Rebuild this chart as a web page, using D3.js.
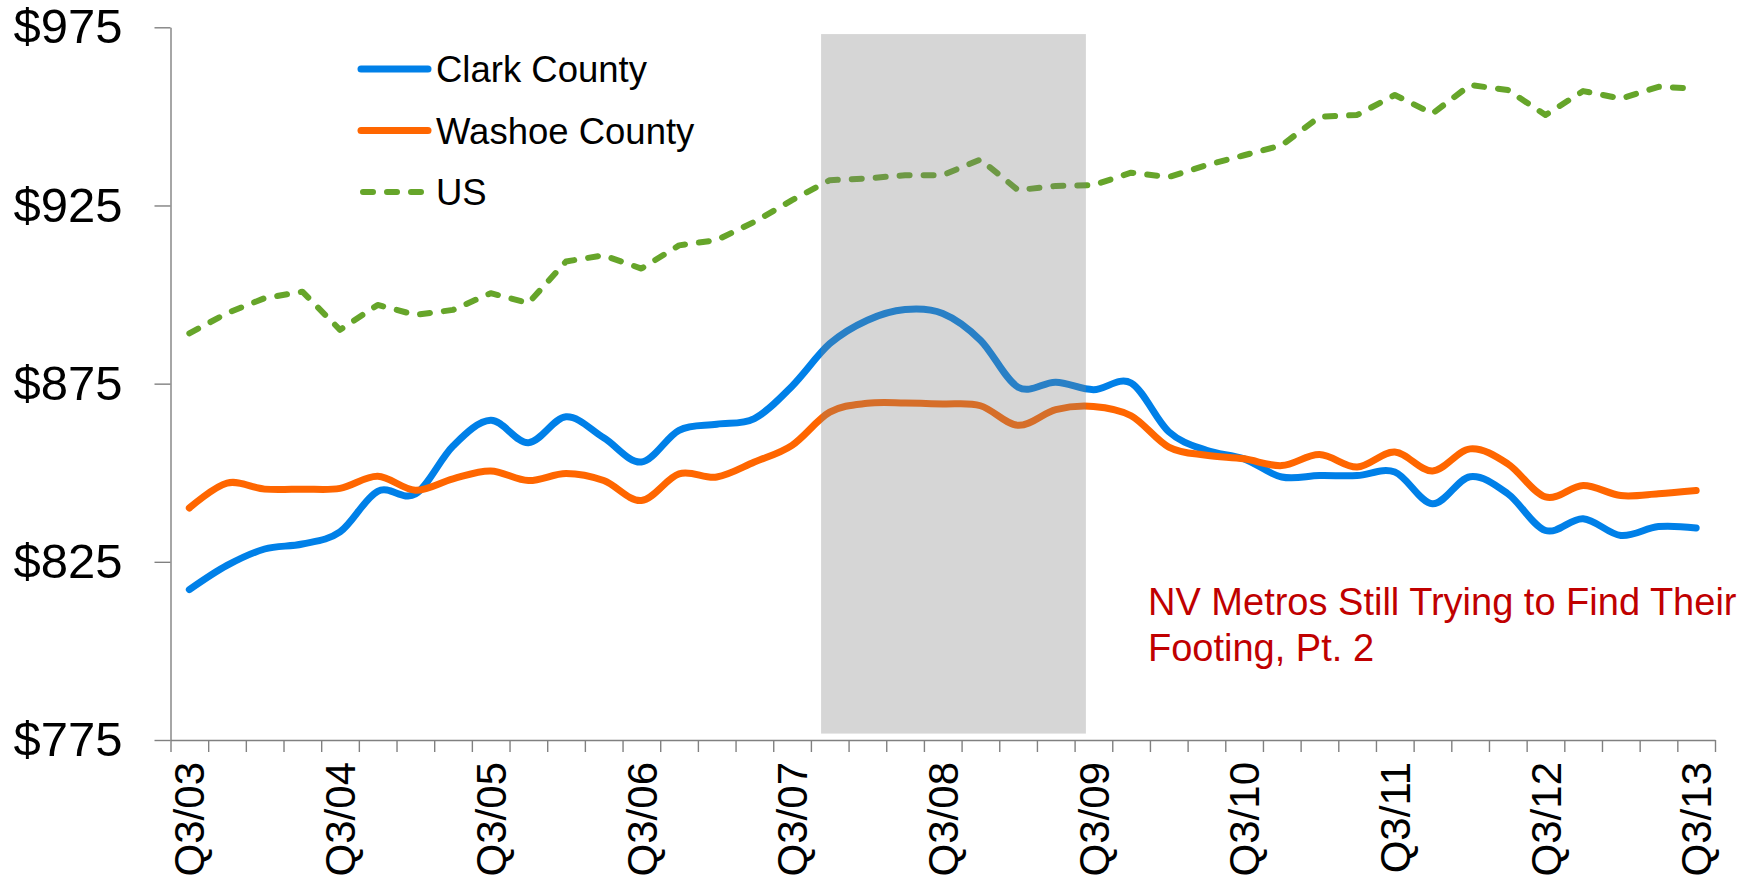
<!DOCTYPE html>
<html>
<head>
<meta charset="utf-8">
<script src="https://cdn.jsdelivr.net/npm/d3@7"></script>
<style>
  body { margin: 0; background: #fff; }
  svg { display: block; font-family: "Liberation Sans", Arial, sans-serif; }
</style>
</head>
<body>
<svg id="chart" width="1758" height="888"></svg>
<script>
const quarters = ["Q3/03","Q4/03","Q1/04","Q2/04","Q3/04","Q4/04","Q1/05","Q2/05","Q3/05","Q4/05",
  "Q1/06","Q2/06","Q3/06","Q4/06","Q1/07","Q2/07","Q3/07","Q4/07","Q1/08","Q2/08",
  "Q3/08","Q4/08","Q1/09","Q2/09","Q3/09","Q4/09","Q1/10","Q2/10","Q3/10","Q4/10",
  "Q1/11","Q2/11","Q3/11","Q4/11","Q1/12","Q2/12","Q3/12","Q4/12","Q1/13","Q2/13","Q3/13"];

const tickLabels = ["Q3/03","Q3/04","Q3/05","Q3/06","Q3/07","Q3/08","Q3/09","Q3/10","Q3/11","Q3/12","Q3/13"];

const clark = [817.2, 824.0, 828.6, 830.0, 833.4, 844.8, 844.0, 857.5, 864.7, 858.4,
  865.7, 859.8, 853.0, 861.9, 863.6, 865.2, 874.3, 886.2, 892.8, 895.8,
  894.7, 887.2, 874.0, 875.4, 873.3, 875.2, 861.5, 856.3, 853.9, 848.8,
  849.2, 849.2, 850.2, 841.3, 848.9, 844.1, 833.8, 837.1, 832.4, 834.9, 834.5];

const washoe = [840.1, 847.1, 845.4, 845.4, 845.6, 849.0, 845.1, 848.3, 850.5, 847.8,
  849.8, 847.8, 842.2, 849.7, 848.8, 853.0, 857.7, 867.0, 869.5, 869.6,
  869.3, 868.8, 863.3, 867.7, 868.6, 866.0, 857.2, 854.9, 853.9, 852.0,
  855.1, 851.6, 855.8, 850.5, 856.7, 852.5, 843.2, 846.4, 843.6, 844.1, 845.0];

const us = [889.1, 894.8, 899.0, 900.8, 890.1, 897.1, 894.3, 895.7, 900.4, 897.6,
  909.3, 911.0, 907.3, 913.8, 915.3, 920.4, 926.5, 932.1, 932.6, 933.5,
  933.5, 937.9, 929.3, 930.5, 930.7, 934.2, 933.0, 936.3, 939.1, 941.9,
  949.9, 950.4, 956.0, 950.8, 958.8, 957.4, 950.4, 957.1, 955.0, 958.3, 957.8];

const yTicks = [775, 825, 875, 925, 975];

// recession shading, in quarters counted from the start of Q3/03
const recessionSpan = [17.27, 24.3];
const recessionValues = [776.8, 973.1];

const series = [
  { name: "Clark County", values: clark, color: "#0080E8", dashed: false },
  { name: "Washoe County", values: washoe, color: "#FF6600", dashed: false },
  { name: "US", values: us, color: "#66A52A", dashed: true }
];

const note = ["NV Metros Still Trying to Find Their", "Footing, Pt. 2"];

const svg = d3.select("#chart");
const plotLeft = 170.5, plotRight = 1715, plotTop = 27.3, plotBottom = 740;

const xBand = d3.scaleBand().domain(quarters).range([plotLeft, plotRight]);
const xLin = d3.scaleLinear().domain([0, quarters.length]).range([plotLeft, plotRight]);
const y = d3.scaleLinear().domain([775, 975]).range([plotBottom, plotTop]);
const cx = q => xBand(q) + xBand.bandwidth() / 2;

// lines
const smooth = d3.line()
  .x((d, i) => cx(quarters[i]))
  .y(d => y(d))
  .curve(d3.curveCardinal.tension(0));
const straight = d3.line()
  .x((d, i) => cx(quarters[i]))
  .y(d => y(d));

svg.append("g").selectAll("path")
  .data(series)
  .join("path")
  .attr("d", s => s.dashed ? straight(s.values) : smooth(s.values))
  .attr("fill", "none")
  .attr("stroke", s => s.color)
  .attr("stroke-width", s => s.dashed ? 6 : 7)
  .attr("stroke-linecap", "round")
  .attr("stroke-linejoin", "round")
  .attr("stroke-dasharray", s => s.dashed ? "10,14" : null);

// recession band, drawn over the lines
svg.append("rect")
  .attr("x", xLin(recessionSpan[0]))
  .attr("width", xLin(recessionSpan[1]) - xLin(recessionSpan[0]))
  .attr("y", y(recessionValues[1]))
  .attr("height", y(recessionValues[0]) - y(recessionValues[1]))
  .attr("fill", "rgb(128,128,128)")
  .attr("fill-opacity", 0.32);

// y axis
const yAxis = svg.append("g")
  .attr("transform", `translate(${plotLeft},0)`)
  .call(d3.axisLeft(y).tickValues(yTicks).tickSize(16).tickSizeOuter(0).tickPadding(32)
    .tickFormat(d => "$" + d));
yAxis.select(".domain").attr("stroke", "#808080").attr("stroke-width", 1.4);
yAxis.selectAll(".tick line").attr("stroke", "#808080").attr("stroke-width", 1.4);
yAxis.selectAll(".tick text")
  .attr("font-size", 49)
  .attr("font-family", "'Liberation Sans', Arial, sans-serif")
  .attr("fill", "#000");

// x axis: tick marks at every quarter boundary
const xAxis = svg.append("g")
  .attr("transform", `translate(0,${plotBottom})`)
  .call(d3.axisBottom(xLin).tickValues(d3.range(quarters.length + 1)).tickSize(12)
    .tickSizeOuter(0).tickFormat(""));
xAxis.select(".domain").attr("stroke", "#808080").attr("stroke-width", 1.4);
xAxis.selectAll(".tick line").attr("stroke", "#808080").attr("stroke-width", 1.4);

svg.append("g").selectAll("text")
  .data(tickLabels)
  .join("text")
  .attr("transform", d => `translate(${cx(d)},${plotBottom + 22}) rotate(-90)`)
  .attr("text-anchor", "end")
  .attr("dy", "0.36em")
  .attr("font-size", 42)
  .attr("fill", "#000")
  .text(d => d);

// legend
const legend = svg.append("g").selectAll("g")
  .data(series)
  .join("g")
  .attr("transform", (d, i) => `translate(0,${69 + i * 61.5})`);
legend.append("line")
  .attr("x1", s => s.dashed ? 363 : 361)
  .attr("x2", s => s.dashed ? 421 : 428)
  .attr("stroke", s => s.color)
  .attr("stroke-width", s => s.dashed ? 6 : 7)
  .attr("stroke-linecap", "round")
  .attr("stroke-dasharray", s => s.dashed ? "10,14" : null);
legend.append("text")
  .attr("x", 436)
  .attr("dy", "0.36em")
  .attr("font-size", 36.5)
  .attr("fill", "#000")
  .text(s => s.name);

// annotation
svg.append("g").selectAll("text")
  .data(note)
  .join("text")
  .attr("x", 1148)
  .attr("y", (d, i) => 615 + i * 46)
  .attr("font-size", 38)
  .attr("fill", "#C00000")
  .text(d => d);
</script>
</body>
</html>
